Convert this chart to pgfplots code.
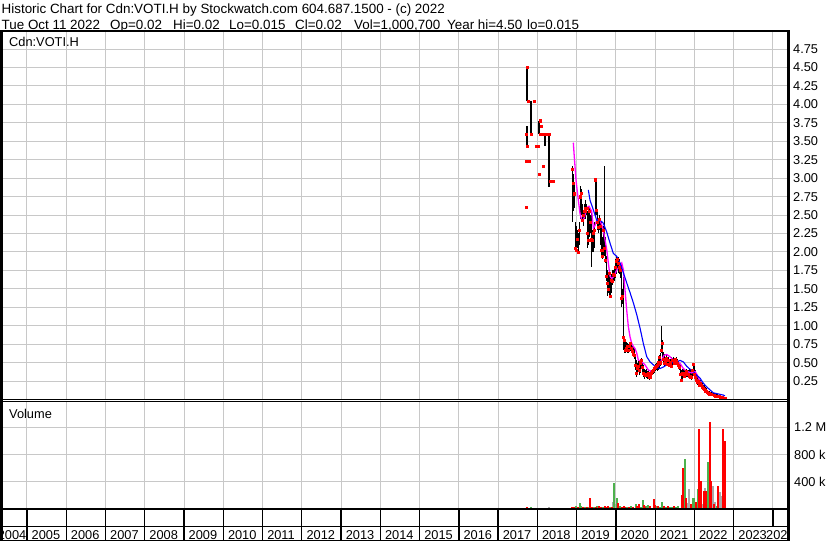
\documentclass[border=0pt]{standalone}
\usepackage{pgfplots}
\pgfplotsset{compat=1.18}
\usepackage{pgfplotstable}
\usepackage{fontspec}
\setmainfont{Liberation Sans}
\definecolor{vgreen}{RGB}{77,177,77}
\definecolor{vgrey}{RGB}{170,170,170}
\definecolor{gridc}{RGB}{200,200,200}
\definecolor{mag}{RGB}{255,0,255}

% high-low bars
\pgfplotstableread{
x lo hi
2017.728 4.05 4.50
2017.743 3.43 3.71
2017.830 3.60 4.05
2018.049 3.60 3.78
2018.202 3.43 3.60
2018.288 2.88 3.60
2018.280 3.25 3.43
2018.895 2.41 3.16
2018.920 2.55 3.05
2018.946 2.60 2.95
2018.971 2.00 2.40
2018.997 2.00 2.35
2019.022 2.05 2.30
2019.048 2.00 2.25
2019.073 2.10 2.40
2019.099 2.45 2.90
2019.124 2.50 2.85
2019.150 2.40 2.65
2019.175 2.35 2.55
2019.201 2.45 2.65
2019.226 2.45 2.70
2019.252 2.50 2.65
2019.277 2.05 2.55
2019.303 2.10 2.60
2019.328 2.20 2.60
2019.353 2.25 2.50
2019.379 1.80 2.57
2019.404 2.00 2.30
2019.430 2.00 2.25
2019.455 2.05 2.40
2019.481 2.48 2.99
2019.506 2.50 3.00
2019.532 2.30 2.55
2019.557 2.25 2.45
2019.583 2.30 2.50
2019.608 2.10 2.45
2019.634 1.95 2.40
2019.659 1.90 2.20
2019.684 1.95 2.35
2019.710 1.95 3.16
2019.735 1.85 2.20
2019.761 1.60 1.95
2019.786 1.40 1.75
2019.812 1.45 1.70
2019.837 1.40 1.75
2019.863 1.37 1.65
2019.888 1.45 1.70
2019.914 1.55 1.76
2019.939 1.60 1.75
2019.965 1.60 1.80
2019.990 1.65 1.90
2020.015 1.70 1.94
2020.041 1.75 1.92
2020.066 1.72 1.93
2020.092 1.70 1.90
2020.117 1.65 1.85
2020.143 1.26 1.82
2020.168 1.30 1.50
2020.194 0.67 1.665
2020.219 0.63 0.85
2020.245 0.63 0.80
2020.270 0.65 0.78
2020.296 0.63 0.76
2020.321 0.63 0.75
2020.347 0.65 0.76
2020.372 0.66 0.78
2020.397 0.65 0.75
2020.423 0.62 0.73
2020.448 0.60 0.72
2020.474 0.55 0.70
2020.499 0.40 0.60
2020.525 0.31 0.54
2020.550 0.35 0.50
2020.576 0.38 0.52
2020.601 0.33 0.48
2020.627 0.36 0.55
2020.652 0.42 0.56
2020.678 0.35 0.50
2020.703 0.31 0.47
2020.729 0.28 0.42
2020.754 0.30 0.40
2020.779 0.29 0.42
2020.805 0.28 0.38
2020.830 0.30 0.40
2020.856 0.26 0.37
2020.881 0.28 0.38
2020.907 0.30 0.40
2020.932 0.34 0.42
2020.958 0.35 0.44
2020.983 0.36 0.45
2021.009 0.38 0.48
2021.034 0.40 0.50
2021.060 0.38 0.52
2021.085 0.40 0.55
2021.110 0.42 0.60
2021.136 0.45 0.63
2021.161 0.63 1.00
2021.187 0.55 0.80
2021.212 0.50 0.65
2021.238 0.45 0.62
2021.263 0.47 0.58
2021.289 0.47 0.60
2021.314 0.45 0.56
2021.340 0.46 0.58
2021.365 0.45 0.55
2021.391 0.44 0.55
2021.416 0.45 0.57
2021.441 0.47 0.56
2021.467 0.48 0.58
2021.492 0.47 0.56
2021.518 0.48 0.56
2021.543 0.49 0.57
2021.569 0.48 0.55
2021.594 0.45 0.52
2021.620 0.40 0.50
2021.645 0.32 0.47
2021.671 0.24 0.40
2021.696 0.26 0.42
2021.722 0.30 0.42
2021.747 0.29 0.40
2021.772 0.30 0.40
2021.798 0.31 0.42
2021.823 0.30 0.40
2021.849 0.30 0.40
2021.874 0.29 0.41
2021.900 0.28 0.40
2021.925 0.27 0.38
2021.951 0.30 0.42
2021.976 0.35 0.50
2022.002 0.32 0.45
2022.027 0.25 0.40
2022.053 0.22 0.36
2022.078 0.20 0.32
2022.104 0.20 0.30
2022.129 0.18 0.27
2022.154 0.17 0.26
2022.180 0.16 0.24
2022.205 0.15 0.22
2022.231 0.13 0.20
2022.256 0.11 0.19
2022.282 0.10 0.17
2022.307 0.09 0.15
2022.333 0.08 0.13
2022.358 0.07 0.12
2022.384 0.07 0.11
2022.409 0.06 0.10
2022.435 0.05 0.10
2022.499 0.05 0.09
2022.537 0.04 0.08
2022.575 0.035 0.07
2022.614 0.03 0.06
2022.652 0.03 0.055
2022.680 0.025 0.05
2022.710 0.02 0.045
2022.745 0.015 0.035
2022.776 0.015 0.02
}\bars

% closing prices
\pgfplotstableread{
x c
2017.710 2.61
2017.728 4.50
2017.718 3.60
2017.743 3.43
2017.710 3.23
2017.779 3.23
2017.761 4.05
2017.914 4.05
2017.830 3.60
2017.965 3.43
2018.016 3.43
2018.034 3.06
2018.059 3.78
2018.084 3.70
2018.067 3.60
2018.135 3.60
2018.219 3.60
2018.288 3.60
2018.135 3.16
2018.321 2.96
2018.405 2.96
2018.895 3.12
2018.920 2.93
2018.946 2.79
2018.971 2.05
2018.997 2.02
2019.022 2.18
2019.048 2.00
2019.073 2.30
2019.099 2.75
2019.124 2.80
2019.150 2.43
2019.175 2.50
2019.201 2.55
2019.226 2.60
2019.252 2.59
2019.277 2.25
2019.303 2.16
2019.328 2.55
2019.353 2.40
2019.379 2.18
2019.404 2.16
2019.430 2.25
2019.455 2.30
2019.481 2.98
2019.506 2.57
2019.532 2.41
2019.557 2.34
2019.583 2.45
2019.608 2.35
2019.634 2.03
2019.659 1.94
2019.684 2.30
2019.710 2.05
2019.735 1.89
2019.761 1.67
2019.786 1.58
2019.812 1.50
2019.837 1.71
2019.863 1.40
2019.888 1.62
2019.914 1.60
2019.939 1.70
2019.965 1.68
2019.990 1.80
2020.015 1.87
2020.041 1.90
2020.066 1.85
2020.092 1.80
2020.117 1.75
2020.143 1.37
2020.168 1.40
2020.194 0.85
2020.219 0.81
2020.245 0.67
2020.270 0.70
2020.296 0.72
2020.321 0.67
2020.347 0.72
2020.372 0.76
2020.397 0.70
2020.423 0.65
2020.448 0.62
2020.474 0.60
2020.499 0.47
2020.525 0.36
2020.550 0.42
2020.576 0.45
2020.601 0.40
2020.627 0.50
2020.652 0.54
2020.678 0.44
2020.703 0.36
2020.729 0.34
2020.754 0.33
2020.779 0.35
2020.805 0.33
2020.830 0.36
2020.856 0.30
2020.881 0.31
2020.907 0.36
2020.932 0.38
2020.958 0.40
2020.983 0.42
2021.009 0.44
2021.034 0.45
2021.060 0.47
2021.085 0.50
2021.110 0.57
2021.136 0.50
2021.161 0.67
2021.187 0.76
2021.212 0.55
2021.238 0.49
2021.263 0.52
2021.289 0.56
2021.314 0.48
2021.340 0.53
2021.365 0.47
2021.391 0.50
2021.416 0.45
2021.441 0.53
2021.467 0.54
2021.492 0.50
2021.518 0.55
2021.543 0.52
2021.569 0.49
2021.594 0.47
2021.620 0.44
2021.645 0.35
2021.671 0.26
2021.696 0.36
2021.722 0.34
2021.747 0.32
2021.772 0.36
2021.798 0.38
2021.823 0.34
2021.849 0.35
2021.874 0.32
2021.900 0.31
2021.925 0.30
2021.951 0.40
2021.976 0.48
2022.002 0.35
2022.027 0.30
2022.053 0.26
2022.078 0.24
2022.104 0.25
2022.129 0.20
2022.154 0.22
2022.180 0.19
2022.205 0.17
2022.231 0.15
2022.256 0.14
2022.282 0.12
2022.307 0.11
2022.333 0.10
2022.358 0.09
2022.384 0.08
2022.409 0.075
2022.435 0.07
2022.499 0.06
2022.537 0.05
2022.575 0.05
2022.614 0.04
2022.652 0.035
2022.680 0.03
2022.710 0.03
2022.745 0.02
2022.776 0.02
}\closes

\pgfplotstableread{
x y
2018.915 3.48
2018.933 3.34
2018.984 2.97
2019.043 2.70
2019.086 2.52
2019.129 2.43
2019.170 2.43
2019.213 2.50
2019.257 2.60
2019.315 2.62
2019.384 2.55
2019.425 2.32
2019.468 2.36
2019.511 2.43
2019.595 2.43
2019.679 2.30
2019.766 2.03
2019.807 1.85
2019.850 1.67
2019.893 1.64
2019.934 1.66
2020.021 1.755
2020.087 1.80
2020.148 1.85
2020.189 1.76
2020.232 1.48
2020.275 1.21
2020.316 0.99
2020.359 0.85
2020.403 0.76
2020.444 0.72
2020.487 0.69
2020.530 0.63
2020.571 0.535
2020.658 0.51
2020.741 0.47
2020.826 0.40
2020.912 0.38
2020.996 0.42
2021.080 0.45
2021.167 0.535
2021.226 0.60
2021.294 0.61
2021.378 0.58
2021.462 0.535
2021.549 0.51
2021.633 0.49
2021.717 0.42
2021.804 0.38
2021.931 0.36
2022.015 0.38
2022.074 0.33
2022.142 0.24
2022.227 0.17
2022.313 0.12
2022.397 0.08
2022.568 0.05
2022.736 0.03
2022.776 0.02
}\mafast

\pgfplotstableread{
x y
2019.297 2.84
2019.341 2.70
2019.425 2.57
2019.511 2.43
2019.595 2.43
2019.679 2.39
2019.766 2.27
2019.850 2.12
2019.934 1.98
2020.021 1.94
2020.105 1.85
2020.189 1.72
2020.275 1.58
2020.359 1.45
2020.444 1.31
2020.530 1.15
2020.614 0.97
2020.698 0.76
2020.785 0.58
2020.869 0.51
2020.953 0.47
2021.039 0.43
2021.124 0.42
2021.208 0.44
2021.294 0.47
2021.378 0.49
2021.462 0.50
2021.549 0.51
2021.633 0.53
2021.717 0.51
2021.804 0.45
2021.888 0.41
2021.972 0.38
2022.058 0.33
2022.142 0.29
2022.227 0.22
2022.313 0.17
2022.397 0.13
2022.481 0.09
2022.568 0.08
2022.652 0.07
2022.736 0.06
2022.776 0.05
}\maslow

\pgfplotstableread{
x v
2017.736 20000
2017.965 10000
2018.195 10000
2018.882 25000
2018.933 20000
2019.035 25000
2019.162 20000
2019.264 25000
2019.341 151000
2019.392 25000
2019.494 20000
2019.570 40000
2019.621 25000
2019.723 30000
2019.774 20000
2019.799 35000
2019.901 20000
2020.054 80000
2020.156 20000
2020.207 40000
2020.232 20000
2020.334 20000
2020.436 25000
2020.538 40000
2020.589 60000
2020.716 50000
2020.741 20000
2020.869 35000
2020.971 140000
2020.996 50000
2021.073 30000
2021.226 35000
2021.327 30000
2021.480 30000
2021.676 200000
2021.717 596000
2021.786 151000
2021.913 60000
2022.033 90000
2022.124 1173000
2022.168 407000
2022.244 264000
2022.295 264000
2022.397 1281000
2022.430 407000
2022.499 60000
2022.608 333000
2022.720 1173000
2022.771 1000700
}\volred

\pgfplotstableread{
x v
2017.838 15000
2018.067 12000
2018.984 30000
2019.073 77000
2019.111 30000
2019.213 15000
2019.315 20000
2019.443 20000
2019.519 30000
2019.672 15000
2019.850 25000
2019.960 373000
2020.028 151000
2020.105 30000
2020.283 25000
2020.385 30000
2020.512 70000
2020.640 20000
2020.691 130000
2020.767 30000
2020.818 50000
2021.039 40000
2021.124 20000
2021.175 100000
2021.276 25000
2021.378 20000
2021.429 25000
2021.531 20000
2021.582 30000
2021.753 729000
2021.951 151000
2021.990 160000
2022.066 60000
2022.091 284000
2022.346 693000
2022.568 30000
}\volgreen

\pgfplotstableread{
x v
2018.297 15000
2018.398 10000
2019.927 90000
2020.003 60000
2021.819 80000
2021.870 284000
2022.206 60000
2022.265 300000
2022.466 340000
2022.532 100000
2022.652 250000
2022.685 180000
}\volgrey

\begin{document}
\begin{tikzpicture}[x=1pt,y=1pt,font=\fontsize{12.8}{15}\selectfont]
\useasboundingbox (0,0) rectangle (830,543);
\fill[white] (0,0) rectangle (830,543);

% ---------- price panel ----------
\begin{axis}[
  at={(1pt,143.5pt)}, anchor=south west, scale only axis,
  width=787pt, height=367.5pt,
  xmin=2004.338, xmax=2024.383, ymin=0, ymax=4.981,
  axis line style={draw=none}, major tick length=0pt,
  xtick={2005,...,2024}, xticklabels={},
  ytick={0.25,0.5,0.75,1,1.25,1.5,1.75,2,2.25,2.5,2.75,3,3.25,3.5,3.75,4,4.25,4.5,4.75},
  grid=major, major grid style={draw=gridc, line width=1pt},
  yticklabel pos=right,
  yticklabel style={anchor=west, inner sep=0pt, xshift=5pt, font=\fontsize{12.8}{15}\selectfont},
  /pgf/number format/.cd, fixed, fixed zerofill, precision=2, assume math mode=true,
]
\addplot[forget plot, draw=none, mark=none,
  error bars/.cd, y dir=both, y explicit, error mark=none,
  error bar style={draw=black, line width=1.7pt}]
  table[x=x, y expr={(\thisrow{hi}+\thisrow{lo})/2}, y error expr={(\thisrow{hi}-\thisrow{lo})/2}] {\bars};
\addplot[red, only marks, mark=square*, mark size=1.05pt, mark options={draw=red, fill=red, line width=0.2pt}] table[x=x, y=c] {\closes};
\addplot[mag, line width=1.3pt] table[x=x, y=y] {\mafast};
\addplot[blue, line width=1.1pt] table[x=x, y=y] {\maslow};
\end{axis}

% ---------- volume panel ----------
\begin{axis}[
  at={(1pt,34.5pt)}, anchor=south west, scale only axis,
  width=787pt, height=106pt,
  xmin=2004.338, xmax=2024.383, ymin=0, ymax=1570370,
  axis line style={draw=none}, major tick length=0pt,
  xtick={2005,...,2024}, xticklabels={},
  ytick={400000,800000,1200000}, yticklabels={400 k,800 k,1.2 M},
  scaled y ticks=false,
  grid=major, major grid style={draw=gridc, line width=1pt},
  yticklabel pos=right,
  yticklabel style={anchor=west, inner sep=0pt, xshift=6pt, font=\fontsize{12.8}{15}\selectfont},
]
\addplot[ycomb, draw=vgrey, line width=2pt, mark=none] table[x=x, y=v] {\volgrey};
\addplot[ycomb, draw=vgreen, line width=2pt, mark=none] table[x=x, y=v] {\volgreen};
\addplot[ycomb, draw=red, line width=2pt, mark=none] table[x=x, y=v] {\volred};
\end{axis}

% ---------- frame ----------
\draw[line width=2pt] (0,511.7) -- (789.5,511.7);
\draw[line width=2.5pt] (1.25,512.7) -- (1.25,1.5);
\draw[line width=2.8pt] (788.6,512.7) -- (788.6,1.5);
\draw[line width=1.2pt] (0,143.6) -- (788,143.6);
\draw[line width=1.2pt] (0,141.1) -- (788,141.1);
\draw[line width=2pt] (0,33.8) -- (788,33.8);
\draw[line width=1.6pt] (0,16.3) -- (788,16.3);
\draw[line width=1.6pt] (0,2.3) -- (788,2.3);
\foreach \i in {0,...,18} \draw[line width=1.3pt] ({27+\i*39.26},33.8) -- ({27+\i*39.26},2.3);
\draw[line width=1.3pt] (773,33.8) -- (773,16.3);

% ---------- texts ----------
\begin{scope}[font=\fontsize{13.4}{15}\selectfont]
\node[anchor=base west, inner sep=0pt] at (1.5,529.5) {Historic Chart for Cdn:VOTI.H by Stockwatch.com 604.687.1500 - (c) 2022};
\node[anchor=base west, inner sep=0pt] at (1.5,513.9) {Tue Oct 11 2022};
\node[anchor=base west, inner sep=0pt] at (110,513.9) {Op=0.02};
\node[anchor=base west, inner sep=0pt] at (173,513.9) {Hi=0.02};
\node[anchor=base west, inner sep=0pt] at (229,513.9) {Lo=0.015};
\node[anchor=base west, inner sep=0pt] at (295,513.9) {Cl=0.02};
\node[anchor=base west, inner sep=0pt] at (354,513.9) {Vol=1,000,700};
\node[anchor=base west, inner sep=0pt] at (447,513.9) {Year hi=4.50};
\node[anchor=base west, inner sep=0pt] at (527,513.9) {lo=0.015};
\end{scope}
\node[anchor=base west, inner sep=0pt] at (9,496.4) {Cdn:VOTI.H};
\node[anchor=base west, inner sep=0pt] at (9,124.7) {Volume};

\foreach \yr [count=\i from 0] in {2005,...,2023}
  \node[anchor=base west, inner sep=0pt] at ({27+\i*39.26+4.5},3.4) {\yr};
\begin{scope}
  \clip (0,3) rectangle (26.5,16);
  \node[anchor=base east, inner sep=0pt] at (26.5,3.4) {2004};
\end{scope}
\begin{scope}
  \clip (765,3) rectangle (787.2,16);
  \node[anchor=base west, inner sep=0pt] at (766,3.4) {2024};
\end{scope}
\end{tikzpicture}
\end{document}
